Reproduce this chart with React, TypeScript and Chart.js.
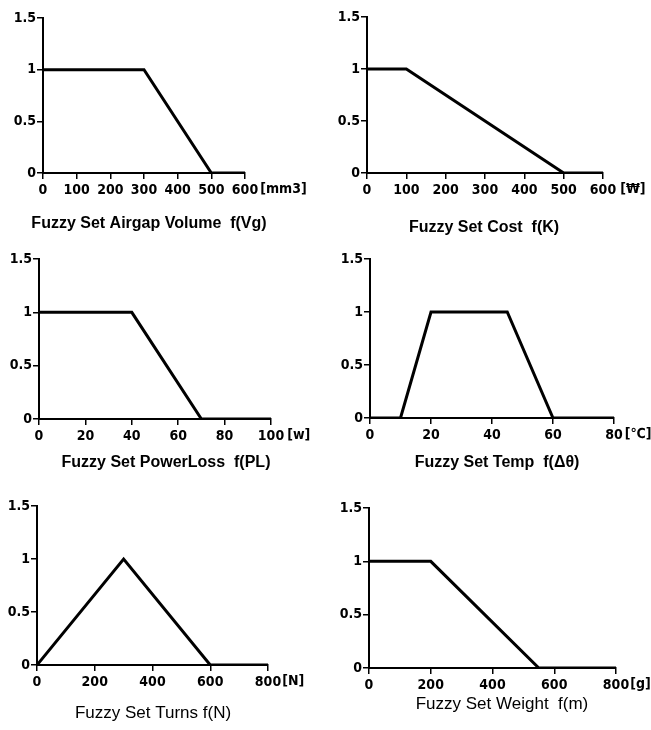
import React, { useEffect, useRef } from "react";
import { Chart, registerables } from "chart.js";

Chart.register(...registerables);

// ---- data ----
const yTickValues = [0, 0.5, 1, 1.5];
const yTickLabels = ["0", "0.5", "1", "1.5"];

const airgapX = [0, 300, 500, 600];
const airgapY = [1, 1, 0, 0];
const airgapTicks = [0, 100, 200, 300, 400, 500, 600];

const costX = [0, 100, 500, 600];
const costY = [1, 1, 0, 0];
const costTicks = [0, 100, 200, 300, 400, 500, 600];

const powerX = [0, 40, 70, 100];
const powerY = [1, 1, 0, 0];
const powerTicks = [0, 20, 40, 60, 80, 100];

const tempX = [0, 10, 20, 45, 60, 80];
const tempY = [0, 0, 1, 1, 0, 0];
const tempTicks = [0, 20, 40, 60, 80];

const turnsX = [0, 300, 600, 800];
const turnsY = [0, 1, 0, 0];
const turnsTicks = [0, 200, 400, 600, 800];

const weightX = [0, 200, 550, 800];
const weightY = [1, 1, 0, 0];
const weightTicks = [0, 200, 400, 600, 800];

// ---- layout / style ----
const TICK_FAMILY = "'Liberation Sans Narrow', 'DejaVu Sans Condensed', 'Liberation Sans', sans-serif";
const TITLE_FAMILY = "'Liberation Sans', Arial, sans-serif";
const TICK_SIZE = 14;
const YW = 40;
const XH = 30;

type Panel = {
  xs: number[];
  ys: number[];
  ticks: number[];
  unit: string;
  unitGap: number;
  title: string;
  titleFont: string;
  box: [number, number, number, number]; // left, top, width, height (page)
  area: [number, number, number, number]; // L, R, T, B (page)
  titlePos: [number, number]; // center x, middle y (page)
};

const panels: Panel[] = [
  {
    xs: airgapX, ys: airgapY, ticks: airgapTicks, unit: "[mm3]", unitGap: 2,
    title: "Fuzzy Set Airgap Volume  f(Vg)", titleFont: `bold 16px ${TITLE_FAMILY}`,
    box: [0, 0, 325, 240], area: [43, 245, 18, 173], titlePos: [149, 224],
  },
  {
    xs: costX, ys: costY, ticks: costTicks, unit: "[₩]", unitGap: 4,
    title: "Fuzzy Set Cost  f(K)", titleFont: `bold 16px ${TITLE_FAMILY}`,
    box: [325, 0, 326, 240], area: [367, 603, 17, 173], titlePos: [484, 228],
  },
  {
    xs: powerX, ys: powerY, ticks: powerTicks, unit: "[w]", unitGap: 3,
    title: "Fuzzy Set PowerLoss  f(PL)", titleFont: `bold 16px ${TITLE_FAMILY}`,
    box: [0, 240, 325, 240], area: [39, 271, 259, 419], titlePos: [166, 463],
  },
  {
    xs: tempX, ys: tempY, ticks: tempTicks, unit: "[℃]", unitGap: 2,
    title: "Fuzzy Set Temp  f(Δθ)", titleFont: `bold 16px ${TITLE_FAMILY}`,
    box: [325, 240, 326, 240], area: [370, 614, 259, 418], titlePos: [497, 463],
  },
  {
    xs: turnsX, ys: turnsY, ticks: turnsTicks, unit: "[N]", unitGap: 1,
    title: "Fuzzy Set Turns f(N)", titleFont: `17px ${TITLE_FAMILY}`,
    box: [0, 480, 325, 250], area: [37, 268, 506, 665], titlePos: [153, 713],
  },
  {
    xs: weightX, ys: weightY, ticks: weightTicks, unit: "[g]", unitGap: 1,
    title: "Fuzzy Set Weight  f(m)", titleFont: `17px ${TITLE_FAMILY}`,
    box: [325, 480, 326, 250], area: [369, 616, 508, 668], titlePos: [502, 704],
  },
];

function FuzzyChart({ p }: { p: Panel }) {
  const ref = useRef<HTMLCanvasElement | null>(null);

  useEffect(() => {
    const canvas = ref.current;
    if (!canvas) return;
    const [bx, by, bw, bh] = p.box;
    const [L, R, T, B] = p.area;
    const padding = {
      left: L - bx - YW,
      right: bx + bw - R,
      top: T - by,
      bottom: by + bh - B - XH,
    };
    const maxX = p.ticks[p.ticks.length - 1];

    const decor = {
      id: "decor",
      afterDraw(chart: any) {
        const ctx = chart.ctx;
        const xScale = chart.scales.x;
        ctx.save();
        ctx.fillStyle = "#000";
        ctx.textBaseline = "middle";
        // unit after last tick label
        ctx.font = `bold ${TICK_SIZE}px ${TICK_FAMILY}`;
        const px = xScale.getPixelForValue(maxX);
        const w = ctx.measureText(String(maxX)).width;
        ctx.textAlign = "left";
        ctx.fillText(p.unit, px + w / 2 + p.unitGap, chart.chartArea.bottom + 8 + TICK_SIZE * 0.6);
        // title
        ctx.font = p.titleFont;
        ctx.textAlign = "center";
        ctx.fillText(p.title, p.titlePos[0] - bx, p.titlePos[1] - by);
        ctx.restore();
      },
    };

    const chart = new Chart(canvas, {
      type: "line",
      data: {
        datasets: [
          {
            data: p.xs.map((x, i) => ({ x, y: p.ys[i] })),
            borderColor: "#000",
            borderWidth: 3,
            pointRadius: 0,
            tension: 0,
            fill: false,
          },
        ],
      },
      options: {
        responsive: false,
        animation: false,
        events: [],
        layout: { padding },
        plugins: {
          legend: { display: false },
          tooltip: { enabled: false },
          title: { display: false },
        },
        scales: {
          x: {
            type: "linear",
            min: 0,
            max: maxX,
            afterFit: (s: any) => {
              s.height = XH;
            },
            afterBuildTicks: (s: any) => {
              s.ticks = p.ticks.map((v) => ({ value: v }));
            },
            border: { display: true, color: "#000", width: 2 },
            grid: {
              display: true,
              drawOnChartArea: false,
              drawTicks: true,
              tickLength: 6,
              tickColor: "#000",
              lineWidth: 1.5,
            },
            ticks: {
              color: "#000",
              padding: 3,
              maxRotation: 0,
              autoSkip: false,
              font: { family: TICK_FAMILY, size: TICK_SIZE, weight: "bold" },
              callback: (v: any) => String(v),
            },
          },
          y: {
            type: "linear",
            min: 0,
            max: 1.5,
            afterFit: (s: any) => {
              s.width = YW;
            },
            afterBuildTicks: (s: any) => {
              s.ticks = yTickValues.map((v) => ({ value: v }));
            },
            border: { display: true, color: "#000", width: 2 },
            grid: {
              display: true,
              drawOnChartArea: false,
              drawTicks: true,
              tickLength: 6,
              tickColor: "#000",
              lineWidth: 1.5,
            },
            ticks: {
              color: "#000",
              padding: 1,
              autoSkip: false,
              font: { family: TICK_FAMILY, size: TICK_SIZE, weight: "bold" },
              callback: (v: any) => {
                const i = yTickValues.indexOf(Number(v));
                return i >= 0 ? yTickLabels[i] : "";
              },
            },
          },
        },
      },
      plugins: [decor],
    });
    return () => chart.destroy();
  }, [p]);

  const [bx, by, bw, bh] = p.box;
  return (
    <canvas
      ref={ref}
      width={bw}
      height={bh}
      style={{ position: "absolute", left: bx, top: by, width: bw, height: bh }}
    />
  );
}

export default function App() {
  return (
    <div
      style={{
        position: "absolute",
        left: 0,
        top: 0,
        width: 651,
        height: 730,
        background: "#fff",
        overflow: "hidden",
      }}
    >
      {panels.map((p, i) => (
        <FuzzyChart key={i} p={p} />
      ))}
    </div>
  );
}
